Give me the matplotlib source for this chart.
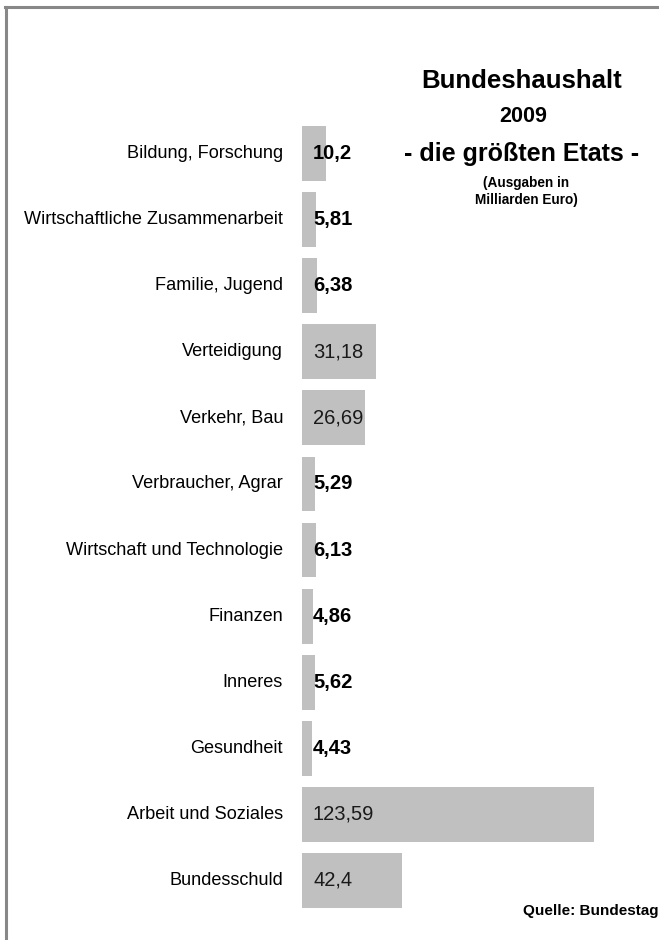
import matplotlib
matplotlib.use("Agg")
import matplotlib.pyplot as plt
from matplotlib import font_manager
from matplotlib.lines import Line2D

names = {f.name for f in font_manager.fontManager.ttflist}
FONT = "Liberation Sans Narrow" if "Liberation Sans Narrow" in names else "Liberation Sans"
plt.rcParams["font.family"] = [FONT, "DejaVu Sans"]

categories = ["Bildung, Forschung", "Wirtschaftliche Zusammenarbeit", "Familie, Jugend",
              "Verteidigung", "Verkehr, Bau", "Verbraucher, Agrar",
              "Wirtschaft und Technologie", "Finanzen", "Inneres", "Gesundheit",
              "Arbeit und Soziales", "Bundesschuld"]
values = [10.2, 5.81, 6.38, 31.18, 26.69, 5.29, 6.13, 4.86, 5.62, 4.43, 123.59, 42.4]
value_labels = ["10,2", "5,81", "6,38", "31,18", "26,69", "5,29", "6,13", "4,86",
                "5,62", "4,43", "123,59", "42,4"]

W, H = 659, 940
fig = plt.figure(figsize=(W / 100, H / 100), dpi=100)

ax = fig.add_axes([302 / W, (H - 913.5) / H, 354.5 / W, 793 / H])
y = list(range(len(categories)))
ax.barh(y, values, height=0.83, color="#c0c0c0", edgecolor="none")
ax.set_xlim(0, 150)
ax.set_ylim(len(categories) - 0.5, -0.5)
ax.axis("off")

for yi, cat in zip(y, categories):
    ax.annotate(cat, xy=(0, yi), xytext=(-19, 0), textcoords="offset pixels",
                ha="right", va="center", fontsize=13.1, color="#000000")
for yi, v, lab in zip(y, values, value_labels):
    bold = v < 20
    ax.annotate(lab, xy=(0, yi), xytext=(11, 0), textcoords="offset pixels",
                ha="left", va="center", fontsize=14.5,
                fontweight="bold" if bold else "normal",
                color="#000000" if bold else "#1a1a1a")

# frame lines
fig.add_artist(Line2D([6 / W, 6 / W], [0, 1 - 7 / H], transform=fig.transFigure,
                      color="#888888", lw=2.2))
fig.add_artist(Line2D([5 / W, 1], [1 - 7 / H, 1 - 7 / H], transform=fig.transFigure,
                      color="#888888", lw=2.2))

fig.text(522 / W, 1 - 81 / H, "Bundeshaushalt", ha="center", va="center",
         fontsize=18.5, fontweight="bold")
fig.text(523 / W, 1 - 116 / H, "2009", ha="center", va="center",
         fontsize=15.5, fontweight="bold")
fig.text(522 / W, 1 - 154 / H, "- die größten Etats -", ha="center", va="center",
         fontsize=18, fontweight="bold")
fig.text(526 / W, 1 - 183 / H, "(Ausgaben in", ha="center", va="center",
         fontsize=9.8, fontweight="bold")
fig.text(526 / W, 1 - 200 / H, "Milliarden Euro)", ha="center", va="center",
         fontsize=9.8, fontweight="bold")
fig.text(523 / W, 1 - 911 / H, "Quelle: Bundestag", ha="left", va="center",
         fontsize=11, fontweight="bold")

fig.savefig("out.png", dpi=100)
